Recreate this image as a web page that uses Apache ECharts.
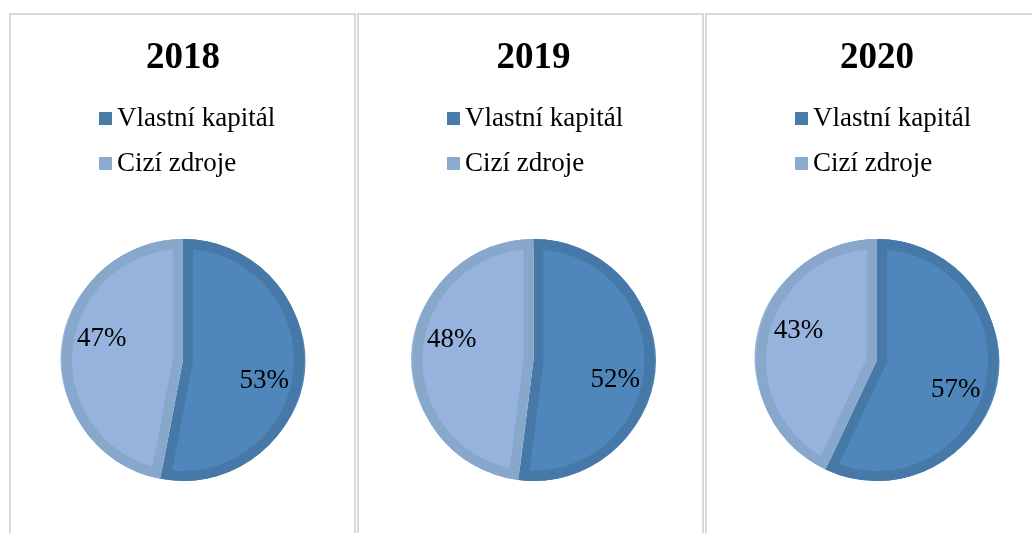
<!DOCTYPE html>
<html>
<head>
<meta charset="utf-8">
<script src="https://cdn.jsdelivr.net/npm/echarts@6/dist/echarts.min.js"></script>
<style>
  html, body { margin: 0; padding: 0; background: #fff; }
  #chart { width: 1032px; height: 533px; }
</style>
</head>
<body>
<div id="chart"></div>
<script>
// data (shares in %)
const years = ['2018', '2019', '2020'];
const categories = ['Vlastní kapitál', 'Cizí zdroje'];
const equity = [53, 52, 57];
const debt = [47, 48, 43];

const fillColors = ['#4f86bb', '#95b3dc'];
const edgeColors = ['#4679a8', '#87a7cb'];
const legendColors = ['#4a7cab', '#8aaace'];
const serif = '"Liberation Serif", "Times New Roman", serif';

const panelLeft = [10, 358, 706];
const pieX = [183, 533.5, 877];
const pieY = 360;
const R = 121;      // outer radius
const ring = 10;    // width of the darker edge
const labelStart = [81, 80, 82];

let option = {
  animation: false,
  backgroundColor: '#fff',
  title: [],
  legend: [],
  series: [],
  graphic: []
}

years.forEach((year, k) => {
  let values = [equity[k], debt[k]];
  let total = values[0] + values[1];
  let cx = pieX[k];

  option.graphic.push({
    type: 'rect',
    silent: true,
    shape: { x: panelLeft[k], y: 14, width: 345, height: 600 },
    style: { fill: 'none', stroke: '#d9d9d9', lineWidth: 2 }
  });

  // title and legend have 5px padding of their own
  option.title.push({
    text: year,
    left: cx - 5,
    top: 35,
    textAlign: 'center',
    textStyle: { fontFamily: serif, fontWeight: 'bold', fontSize: 37, color: '#000' }
  });

  option.legend.push({
    orient: 'vertical',
    left: panelLeft[k] + 84,
    top: 100,
    icon: 'rect',
    itemWidth: 13,
    itemHeight: 13,
    itemGap: 18,
    selectedMode: false,
    textStyle: { fontFamily: serif, fontSize: 27, lineHeight: 27, color: '#000' },
    data: categories.map((name, i) => ({ name: name, itemStyle: { color: legendColors[i] } }))
  });

  let base = {
    type: 'pie',
    silent: true,
    center: [cx, pieY],
    startAngle: 90,
    clockwise: true,
    avoidLabelOverlap: false,
    label: { show: false },
    labelLine: { show: false },
    emphasis: { disabled: true },
    itemStyle: { borderWidth: 0 }
  };

  // whole disc in the edge colours
  option.series.push(Object.assign({}, base, {
    radius: [0, R],
    data: categories.map((name, i) => ({ name: name, value: values[i], itemStyle: { color: edgeColors[i] } }))
  }));

  // each slice's fill, moved inward so the edge shows along the radii
  let start = 90;
  values.forEach((v, i) => {
    let sweep = 360 * v / total;
    let mid = (start - sweep / 2) * Math.PI / 180;
    let shift = ring / Math.sin(sweep / 2 * Math.PI / 180);
    option.series.push(Object.assign({}, base, {
      center: [cx + shift * Math.cos(mid), pieY - shift * Math.sin(mid)],
      radius: [0, R - ring + 1.5],
      data: categories.map((name, j) => ({
        name: name,
        value: values[j],
        itemStyle: { color: j === i ? fillColors[j] : 'rgba(0,0,0,0)' }
      }))
    }));
    start -= sweep;
  });

  // outer edge ring
  option.series.push(Object.assign({}, base, {
    radius: [R - ring, R],
    data: categories.map((name, i) => ({ name: name, value: values[i], itemStyle: { color: edgeColors[i] } }))
  }));

  // percentage labels
  option.series.push(Object.assign({}, base, {
    startAngle: labelStart[k],
    radius: [41, R],
    label: {
      show: true,
      position: 'inside',
      formatter: '{c}%',
      fontFamily: serif,
      fontSize: 27,
      color: '#000'
    },
    data: categories.map((name, i) => ({ name: name, value: values[i], itemStyle: { color: 'rgba(0,0,0,0)' } }))
  }));
});

let chart = echarts.init(document.getElementById('chart'));
chart.setOption(option);
window.addEventListener('resize', () => chart.resize());
</script>
</body>
</html>
